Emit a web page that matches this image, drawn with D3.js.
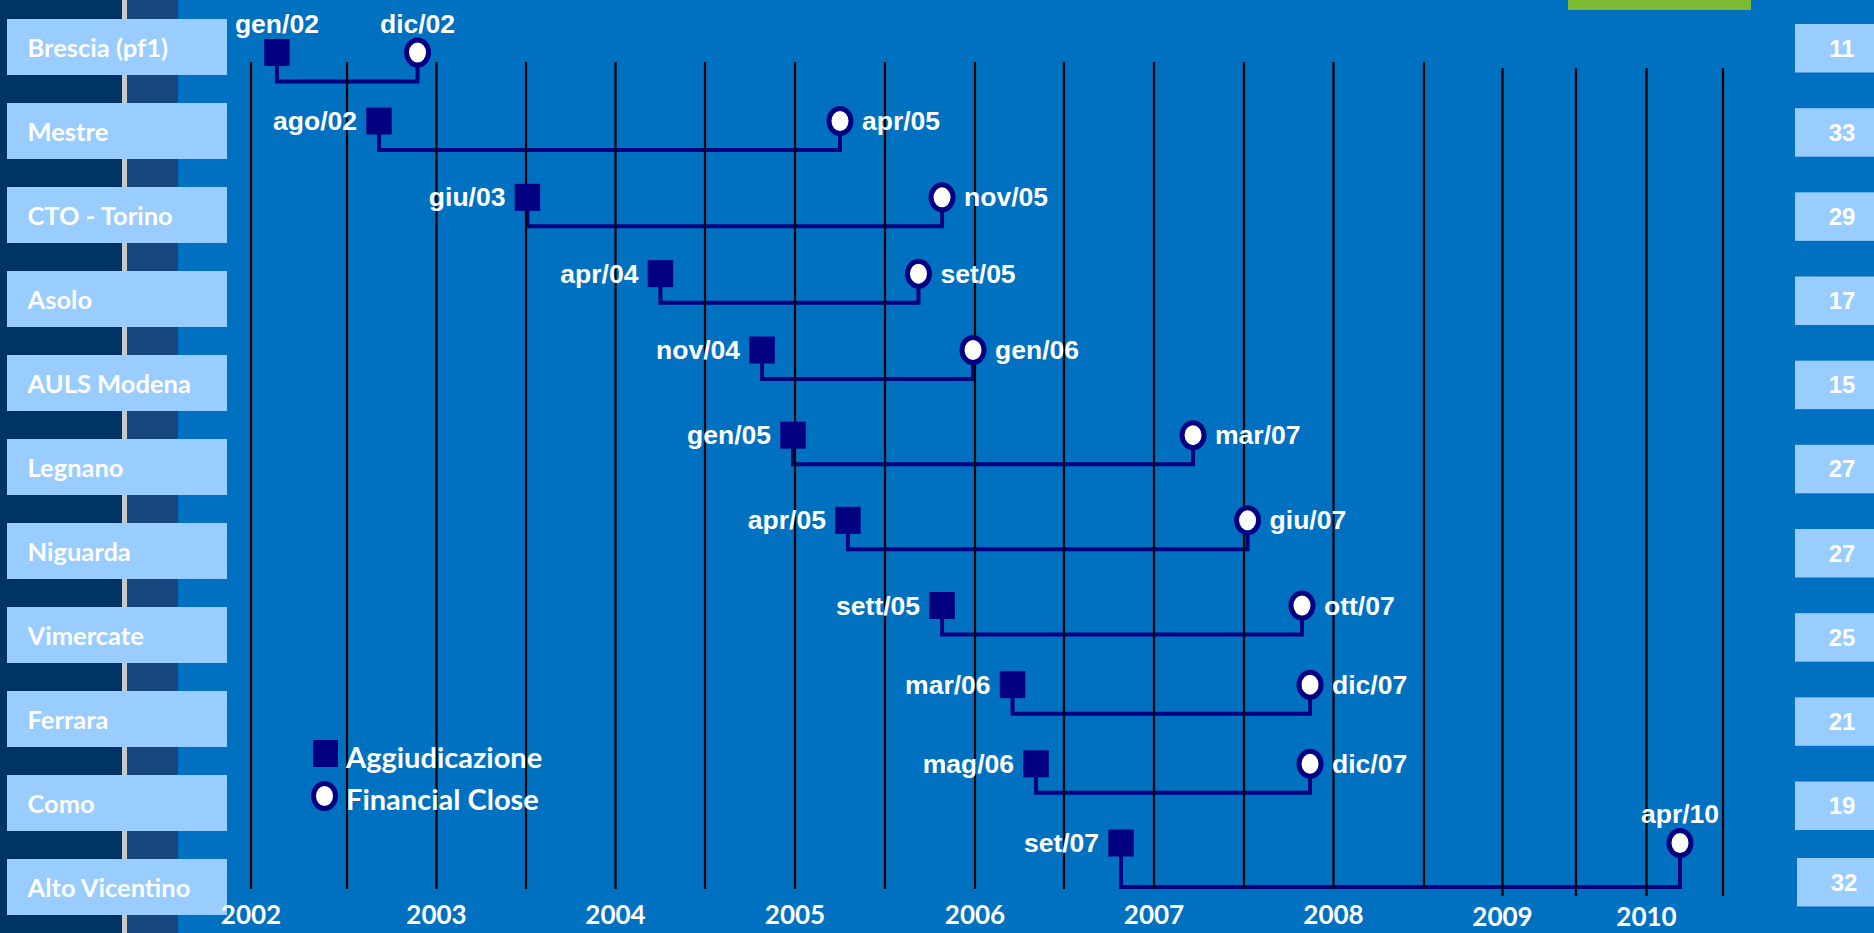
<!DOCTYPE html>
<html>
<head>
<meta charset="utf-8">
<script src="https://cdn.jsdelivr.net/npm/d3@7"></script>
<style>
  html, body { margin: 0; padding: 0; background: #0070C0; overflow: hidden; }
  svg { display: block; }
</style>
</head>
<body>
<svg id="chart" width="1874" height="933"></svg>
<script>
// ---------------- DATA ----------------
const sites = ["Brescia (pf1)", "Mestre", "CTO - Torino", "Asolo", "AULS Modena", "Legnano",
               "Niguarda", "Vimercate", "Ferrara", "Como", "Alto Vicentino"];
// Aggiudicazione (award) — label and position (decimal years)
const aggLabels = ["gen/02", "ago/02", "giu/03", "apr/04", "nov/04", "gen/05",
                   "apr/05", "sett/05", "mar/06", "mag/06", "set/07"];
const aggDates  = [2002.135, 2002.679, 2003.508, 2004.251, 2004.817, 2004.989,
                   2005.294, 2005.817, 2006.211, 2006.343, 2006.817];
// Financial Close
const fcLabels = ["dic/02", "apr/05", "nov/05", "set/05", "gen/06", "mar/07",
                  "giu/07", "ott/07", "dic/07", "dic/07", "apr/10"];
const fcDates  = [2002.894, 2005.250, 2005.817, 2005.686, 2005.989, 2007.217,
                  2007.520, 2007.824, 2007.869, 2007.869, 2010.219];
// months between award and financial close (right column)
const durations = [11, 33, 29, 17, 15, 27, 27, 25, 21, 19, 32];
// axis
const yearLabels = [2002, 2003, 2004, 2005, 2006, 2007, 2008, 2009, 2010];
const gridTicks = [2002, 2002.5, 2003, 2003.5, 2004, 2004.5, 2005, 2005.5, 2006, 2006.5,
                   2007, 2007.5, 2008, 2008.5, 2009, 2009.5, 2010, 2010.5];
const legendItems = ["Aggiudicazione", "Financial Close"];

// ---------------- LAYOUT ----------------
const svg = d3.select("#chart");
const W = 1874, H = 933;
const navy = "#000080";
const boxBlue = "#99CCFF";
const calibri = "Lato, 'Open Sans', sans-serif";
const arial = "'Liberation Sans', Arial, sans-serif";

// piecewise time scale matching the hand-drawn grid of the slide
const x = d3.scaleLinear()
  .domain(gridTicks)
  .range([251, 347, 436.5, 526, 615.5, 705, 795, 885, 975, 1064, 1154, 1244,
          1333.5, 1424, 1502.5, 1576, 1646.5, 1723]);

const idx = d3.range(sites.length);
const yBox = d3.scaleLinear().domain([0, 10]).range([19, 859]);                        // left label boxes (top)
const yMark = d3.scaleLinear().domain([0, 1, 4, 7, 10]).range([52.5, 121, 350, 605.5, 843]); // marker centres
const yRight = d3.scaleLinear().domain([0, 9, 10]).range([24, 781.5, 858]);            // right boxes (top)

// background
svg.append("rect").attr("width", W).attr("height", H).attr("fill", "#0070C0");
svg.append("rect").attr("x", 0).attr("y", 0).attr("width", 122).attr("height", H).attr("fill", "#003366");
svg.append("rect").attr("x", 122).attr("y", 0).attr("width", 5).attr("height", H).attr("fill", "#C8C8C8");
svg.append("rect").attr("x", 127).attr("y", 0).attr("width", 51).attr("height", H).attr("fill", "#17457D");
// green accent bar at top
svg.append("rect").attr("x", 1568).attr("y", 0).attr("width", 183).attr("height", 10).attr("fill", "#7CBB31");

// left labels
const left = svg.append("g");
left.selectAll("rect").data(idx).join("rect")
  .attr("x", 7).attr("y", i => yBox(i)).attr("width", 220).attr("height", 56)
  .attr("fill", boxBlue);
left.selectAll("text").data(idx).join("text")
  .attr("x", 27.5).attr("y", i => yBox(i) + 38)
  .attr("fill", "#fff").attr("font-family", calibri).attr("font-weight", 700)
  .attr("font-size", 25.5)
  .text(i => sites[i]);

// right duration boxes
const right = svg.append("g");
right.selectAll("rect").data(idx).join("rect")
  .attr("x", i => i === 10 ? 1797 : 1795).attr("y", i => yRight(i)).attr("width", 80).attr("height", 48.5)
  .attr("fill", boxBlue);
right.selectAll("text").data(idx).join("text")
  .attr("x", i => i === 10 ? 1844 : 1842).attr("y", i => yRight(i) + 32.5)
  .attr("text-anchor", "middle")
  .attr("fill", "#fff").attr("font-family", arial).attr("font-weight", 700)
  .attr("font-size", 24)
  .text(i => durations[i]);

// connectors (under grid lines)
const connOff = 29;
svg.append("g").selectAll("path").data(idx).join("path")
  .attr("fill", "none").attr("stroke", navy).attr("stroke-width", 4)
  .attr("d", i => {
    const y0 = yMark(i), yc = y0 + connOff + (i === 10 ? 15 : 0);
    return `M${x(aggDates[i])},${y0}V${yc}H${x(fcDates[i])}V${y0}`;
  });

// grid lines
svg.append("g").selectAll("line").data(gridTicks).join("line")
  .attr("x1", d => x(d)).attr("x2", d => x(d))
  .attr("y1", d => d >= 2009 ? 68 : 62).attr("y2", d => d >= 2009 ? 896 : 889)
  .attr("stroke", "#000").attr("stroke-width", 2.2);

// year labels
svg.append("g").selectAll("text").data(yearLabels).join("text")
  .attr("x", d => x(d)).attr("y", d => d >= 2009 ? 926 : 924)
  .attr("text-anchor", "middle")
  .attr("fill", "#fff").attr("font-family", calibri).attr("font-weight", 700)
  .attr("font-size", 26)
  .text(d => d);

// markers
const sq = 25.5, sqH = 27;
svg.append("g").selectAll("rect").data(idx).join("rect")
  .attr("x", i => x(aggDates[i]) - sq / 2).attr("y", i => yMark(i) - sqH / 2)
  .attr("width", sq).attr("height", sqH).attr("fill", navy);
svg.append("g").selectAll("ellipse").data(idx).join("ellipse")
  .attr("cx", i => x(fcDates[i])).attr("cy", i => yMark(i))
  .attr("rx", 11).attr("ry", 12.5)
  .attr("fill", "#fff").attr("stroke", navy).attr("stroke-width", 5);

// marker labels
const lab = svg.append("g").attr("fill", "#fff").attr("font-family", arial)
  .attr("font-weight", 700).attr("font-size", 26.5);
lab.selectAll("text.agg").data(idx).join("text").attr("class", "agg")
  .attr("x", i => i === 0 ? x(aggDates[i]) : x(aggDates[i]) - 22)
  .attr("y", i => i === 0 ? yMark(i) - 19.5 : yMark(i) + 9)
  .attr("text-anchor", i => i === 0 ? "middle" : "end")
  .text(i => aggLabels[i]);
lab.selectAll("text.fc").data(idx).join("text").attr("class", "fc")
  .attr("x", i => (i === 0 || i === 10) ? x(fcDates[i]) : x(fcDates[i]) + 22)
  .attr("y", i => (i === 0 || i === 10) ? yMark(i) - 20 : yMark(i) + 9)
  .attr("text-anchor", i => (i === 0 || i === 10) ? "middle" : "start")
  .text(i => fcLabels[i]);

// legend
const lg = svg.append("g");
lg.append("rect").attr("x", 313).attr("y", 740).attr("width", 25).attr("height", 27).attr("fill", navy);
lg.append("ellipse").attr("cx", 324.5).attr("cy", 796).attr("rx", 11).attr("ry", 12.5)
  .attr("fill", "#fff").attr("stroke", navy).attr("stroke-width", 5);
lg.selectAll("text").data(legendItems).join("text")
  .attr("x", 346).attr("y", (d, i) => i === 0 ? 768 : 810)
  .attr("fill", "#fff").attr("font-family", calibri).attr("font-weight", 700)
  .attr("font-size", 29)
  .text(d => d);
</script>
</body>
</html>
